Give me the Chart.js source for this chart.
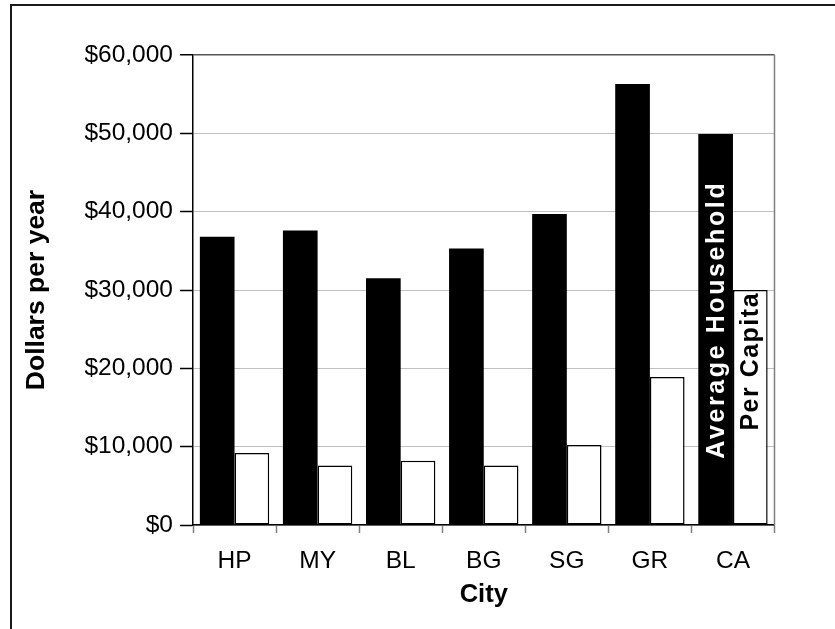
<!DOCTYPE html>
<html>
<head>
<meta charset="utf-8">
<script src="https://cdn.jsdelivr.net/npm/chart.js@4/dist/chart.umd.min.js"></script>
<style>
  html, body { margin: 0; padding: 0; background: #fff; }
  canvas { display: block; }
</style>
</head>
<body>
<canvas id="c" width="835" height="629"></canvas>
<script>
// Income by city
const cities = ['HP', 'MY', 'BL', 'BG', 'SG', 'GR', 'CA'];
const averageHousehold = [36800, 37600, 31500, 35300, 39700, 56300, 49900];
const perCapita = [9200, 7600, 8200, 7600, 10200, 18900, 30000];
const yMin = 0, yMax = 60000, yStep = 10000;

// Where the series names sit inside the last group of bars (value at text centre)
const seriesLabelCentres = [26200, 20900];
const seriesLabelSpacing = ['2.6px', '1.5px'];

const FONT = "'Liberation Sans', Arial, sans-serif";

const framePlugin = {
  id: 'frame',
  beforeDraw(chart) {
    const ctx = chart.ctx;
    ctx.save();
    ctx.fillStyle = '#fff';
    ctx.fillRect(0, 0, chart.width, chart.height);
    ctx.strokeStyle = '#1a1a1a';
    ctx.lineWidth = 2;
    ctx.strokeRect(11, 5, chart.width + 20, chart.height + 20);
    ctx.restore();
  },
  beforeDatasetsDraw(chart) {
    const { ctx, chartArea } = chart;
    ctx.save();
    ctx.strokeStyle = '#808080';
    ctx.lineWidth = 1.5;
    ctx.beginPath();
    ctx.moveTo(chartArea.right, chartArea.top);
    ctx.lineTo(chartArea.right, chartArea.bottom);
    ctx.stroke();
    ctx.restore();
  }
};

// Series names written vertically inside the bars of the last city
const seriesLabelPlugin = {
  id: 'seriesLabels',
  afterDatasetsDraw(chart) {
    const ctx = chart.ctx;
    const y = chart.scales.y;
    const last = cities.length - 1;
    chart.data.datasets.forEach((ds, i) => {
      const bar = chart.getDatasetMeta(i).data[last];
      ctx.save();
      ctx.translate(bar.x + 1, y.getPixelForValue(seriesLabelCentres[i]));
      ctx.rotate(-Math.PI / 2);
      ctx.font = 'bold 25px ' + FONT;
      if ('letterSpacing' in ctx) ctx.letterSpacing = seriesLabelSpacing[i];
      ctx.fillStyle = i === 0 ? '#fff' : '#000';
      ctx.textAlign = 'center';
      ctx.textBaseline = 'middle';
      ctx.fillText(ds.label, 0, 0);
      ctx.restore();
    });
  }
};

new Chart(document.getElementById('c'), {
  type: 'bar',
  data: {
    labels: cities,
    datasets: [
      {
        label: 'Average Household',
        data: averageHousehold,
        backgroundColor: '#000',
        borderColor: '#000',
        borderWidth: 0
      },
      {
        label: 'Per Capita',
        data: perCapita,
        backgroundColor: '#fff',
        borderColor: '#000',
        borderWidth: 1.5,
        borderSkipped: false
      }
    ]
  },
  options: {
    responsive: false,
    animation: false,
    devicePixelRatio: 1,
    categoryPercentage: 0.835,
    barPercentage: 1,
    layout: { padding: { left: 0, top: 55, right: 60.5, bottom: 0 } },
    plugins: {
      legend: { display: false },
      tooltip: { enabled: false }
    },
    scales: {
      x: {
        offset: true,
        grid: {
          display: true,
          offset: true,
          drawOnChartArea: false,
          tickLength: 8,
          tickColor: '#808080',
          tickWidth: 1.5
        },
        border: { color: '#000', width: 1.5 },
        ticks: {
          color: '#000',
          padding: 14,
          font: { family: FONT, size: 24.5 }
        },
        title: {
          display: true,
          text: 'City',
          color: '#000',
          font: { family: FONT, size: 25.5, weight: 'bold' },
          padding: { top: 0, bottom: 19 }
        },
        afterFit(scale) { scale.height = 104; }
      },
      y: {
        min: yMin,
        max: yMax,
        grid: {
          color: (c) => (c.tick && c.tick.value === yMax ? '#555' : '#c0c0c0'),
          lineWidth: (c) => (c.tick && c.tick.value === yMax ? 1.5 : 1),
          tickLength: 13,
          tickColor: '#000',
          tickWidth: 1.5
        },
        border: { color: '#000', width: 1.5 },
        ticks: {
          stepSize: yStep,
          color: '#000',
          padding: 7,
          font: { family: FONT, size: 24.5 },
          callback: (v) => '$' + Number(v).toLocaleString('en-US')
        },
        title: {
          display: true,
          text: 'Dollars per year',
          color: '#000',
          font: { family: FONT, size: 26.5, weight: 'bold' },
          padding: { top: 21, bottom: 0 }
        },
        afterFit(scale) { scale.width = 193; }
      }
    }
  },
  plugins: [framePlugin, seriesLabelPlugin]
});
</script>
</body>
</html>
